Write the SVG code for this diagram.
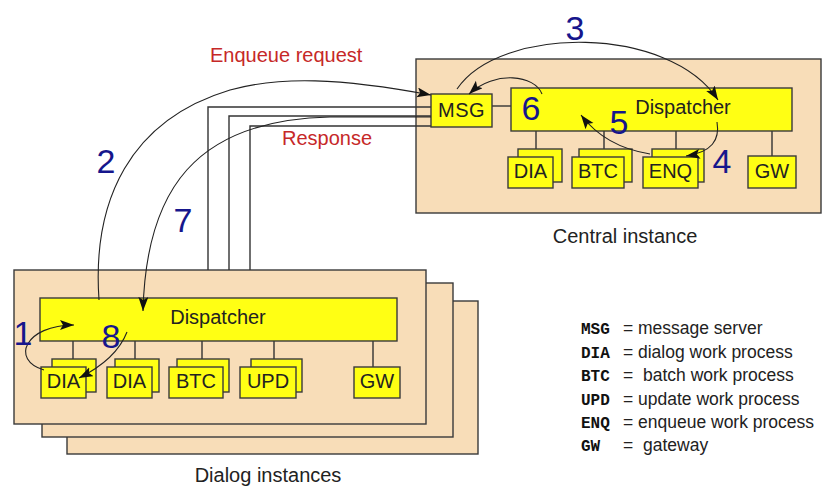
<svg xmlns="http://www.w3.org/2000/svg" width="823" height="488" viewBox="0 0 823 488">
<style>
.inst{fill:#F8DDB8;stroke:#3a3a3a;stroke-width:1.4}
.box{fill:#FFFF14;stroke:#3a3a3a;stroke-width:1.4}
.lbl{font-family:"Liberation Sans",Arial,sans-serif;font-size:20px;fill:#222;text-anchor:middle}
.num{font-family:"Liberation Sans",Arial,sans-serif;font-size:34px;fill:#16168C;text-anchor:middle}
.red{font-family:"Liberation Sans",Arial,sans-serif;font-size:20px;fill:#C62828}
.cap{font-family:"Liberation Sans",Arial,sans-serif;font-size:20px;fill:#222;text-anchor:middle}
.mono{font-family:"Liberation Mono","Courier New",monospace;font-size:16px;font-weight:bold;fill:#111}
.leg{font-family:"Liberation Sans",Arial,sans-serif;font-size:17.5px;fill:#222}
.ln{fill:none;stroke:#333;stroke-width:1.4}
.arc{fill:none;stroke:#222;stroke-width:1.1;marker-end:url(#ah)}
</style>
<defs>
<marker id="ah" markerUnits="userSpaceOnUse" markerWidth="16" markerHeight="12" refX="14" refY="5" orient="auto">
<path d="M0,0 L14,5 L0,10 L3,5 Z" fill="#111"/>
</marker>
</defs>
<rect width="823" height="488" fill="#ffffff"/>

<g id="dialog-instances">
<rect class="inst" x="67" y="301" width="411" height="153"/>
<rect class="inst" x="42" y="283" width="411" height="154"/>
<rect class="inst" x="14" y="270" width="412" height="154"/>
</g>
<g id="central-instance">
<rect class="inst" x="416" y="59" width="405" height="154"/>
</g>

<g id="connector-lines">
<path class="ln" d="M492,106 H511"/>
<path class="ln" d="M536,131 V149 M604,131 V149 M676,131 V149 M772,131 V156"/>
<path class="ln" d="M73,341 V359 M135,341 V359 M202,341 V359 M274,341 V359 M373,341 V367"/>
<path class="ln" d="M208,270 V107 H431 M229,270 V116 H431 M250,270 V126 H431"/>
</g>

<g id="msg">
<rect class="box" x="431" y="94" width="61" height="33"/>
<text class="lbl" x="461.5" y="117" letter-spacing="0.5">MSG</text>
</g>
<g id="central-dispatcher">
<rect class="box" x="511" y="88" width="281" height="43"/>
<text class="lbl" x="683" y="114">Dispatcher</text>
</g>
<g id="central-dia">
<rect class="box" x="518" y="149" width="44" height="33"/>
<rect class="box" x="508" y="157" width="45" height="31"/>
<text class="lbl" x="530.5" y="178">DIA</text>
</g>
<g id="central-btc">
<rect class="box" x="579" y="149" width="53" height="33"/>
<rect class="box" x="572" y="157" width="52" height="31"/>
<text class="lbl" x="598" y="178">BTC</text>
</g>
<g id="central-enq">
<rect class="box" x="652" y="149" width="52" height="33"/>
<rect class="box" x="643" y="157" width="55" height="31"/>
<text class="lbl" x="670.5" y="178">ENQ</text>
</g>
<g id="central-gw">
<rect class="box" x="748" y="156" width="48" height="32"/>
<text class="lbl" x="772" y="178">GW</text>
</g>

<g id="dialog-dispatcher">
<rect class="box" x="40" y="298" width="357" height="43"/>
<text class="lbl" x="218" y="324">Dispatcher</text>
</g>
<g id="dialog-dia-1">
<rect class="box" x="52" y="359" width="44" height="33"/>
<rect class="box" x="41" y="367" width="45" height="31"/>
<text class="lbl" x="63.5" y="388">DIA</text>
</g>
<g id="dialog-dia-2">
<rect class="box" x="115" y="359" width="44" height="33"/>
<rect class="box" x="107" y="367" width="45" height="31"/>
<text class="lbl" x="129.5" y="388">DIA</text>
</g>
<g id="dialog-btc">
<rect class="box" x="177" y="359" width="52" height="33"/>
<rect class="box" x="169" y="367" width="54" height="31"/>
<text class="lbl" x="196" y="388">BTC</text>
</g>
<g id="dialog-upd">
<rect class="box" x="251" y="359" width="51" height="33"/>
<rect class="box" x="240" y="367" width="56" height="31"/>
<text class="lbl" x="268" y="388">UPD</text>
</g>
<g id="dialog-gw">
<rect class="box" x="354" y="367" width="46" height="31"/>
<text class="lbl" x="377" y="388">GW</text>
</g>

<g id="connectors">
<path class="arc" d="M99,300 C92,200 130,120 230,90 C280,76 340,78 431,95"/>
<path class="arc" d="M431,117 L330,117 C195,120 146,190 143,311"/>
<path class="arc" d="M457,89 C500,25 670,25 718,100"/>
<path class="arc" d="M717,122 C720,140 712,152 686,156"/>
<path class="arc" d="M650,154 C625,150 600,140 581,115"/>
<path class="arc" d="M542,94 C535,75 495,70 469,94"/>
<path class="arc" d="M44,370 C10,360 25,325 74,325"/>
<path class="arc" d="M127,332 C120,350 105,365 79,378"/>
</g>

<g id="numbers">
<text class="num" x="23" y="345">1</text>
<text class="num" x="106" y="173">2</text>
<text class="num" x="575" y="40">3</text>
<text class="num" x="722" y="173">4</text>
<text class="num" x="619" y="134">5</text>
<text class="num" x="531" y="120">6</text>
<text class="num" x="183" y="232">7</text>
<text class="num" x="111" y="348">8</text>
</g>

<g id="labels">
<text class="red" x="210" y="62">Enqueue request</text>
<text class="red" x="282" y="145">Response</text>
<text class="cap" x="625" y="243">Central instance</text>
<text class="cap" x="268" y="482">Dialog instances</text>
</g>

<g id="legend">
<text class="mono" x="581" y="334">MSG</text><text class="leg" x="623" y="334">=</text><text class="leg" x="638" y="334">message server</text>
<text class="mono" x="581" y="358">DIA</text><text class="leg" x="623" y="358">=</text><text class="leg" x="638" y="358">dialog work process</text>
<text class="mono" x="581" y="381">BTC</text><text class="leg" x="623" y="381">=</text><text class="leg" x="643" y="381">batch work process</text>
<text class="mono" x="581" y="405">UPD</text><text class="leg" x="623" y="405">=</text><text class="leg" x="638" y="405">update work process</text>
<text class="mono" x="581" y="428">ENQ</text><text class="leg" x="623" y="428">=</text><text class="leg" x="638" y="428">enqueue work process</text>
<text class="mono" x="581" y="451">GW</text><text class="leg" x="623" y="451">=</text><text class="leg" x="643" y="451">gateway</text>
</g>
</svg>
